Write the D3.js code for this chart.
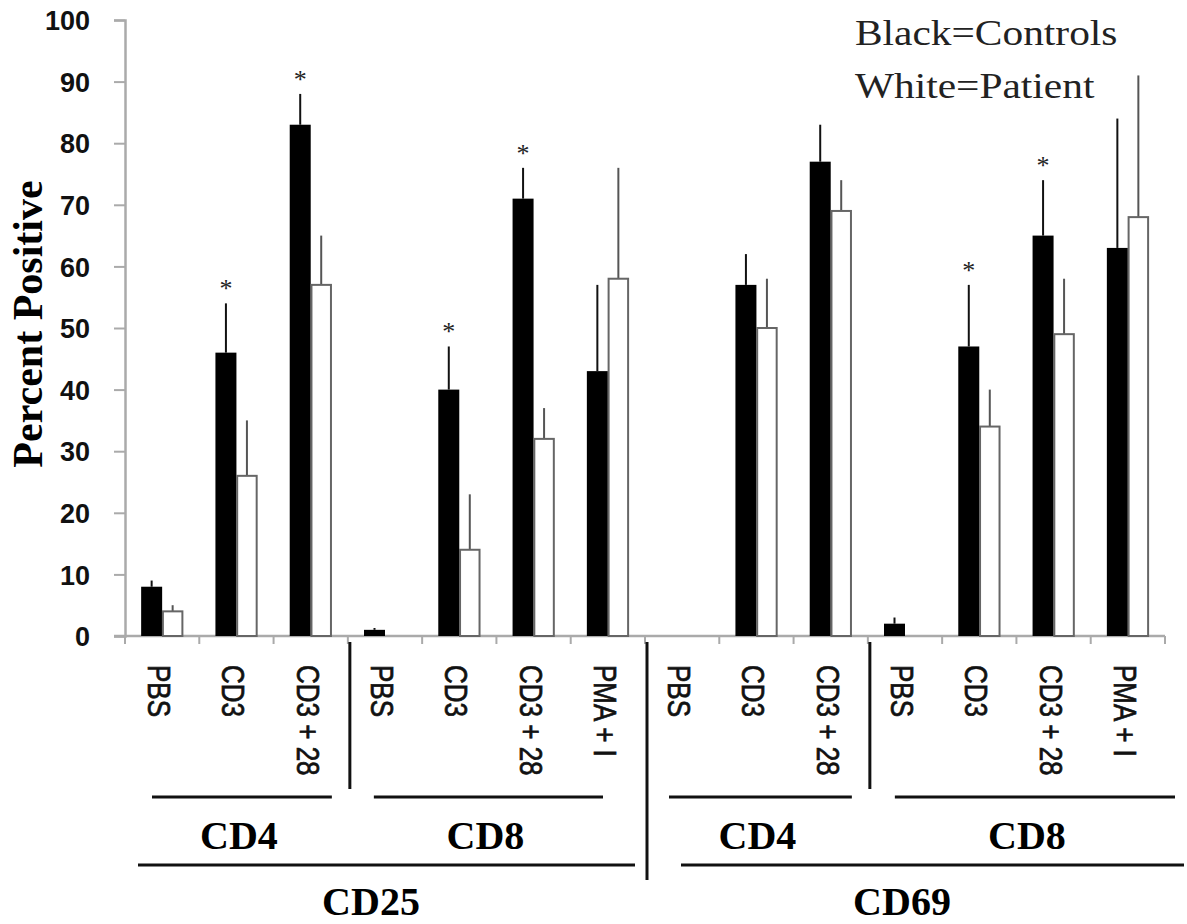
<!DOCTYPE html>
<html>
<head>
<meta charset="utf-8">
<script src="https://cdn.jsdelivr.net/npm/d3@7"></script>
<style>
  body { margin: 0; background: #fff; }
  svg { display: block; }
</style>
</head>
<body>
<script>
// Data
const markers = ["CD25", "CD25", "CD25", "CD25", "CD25", "CD25", "CD25",
                 "CD69", "CD69", "CD69", "CD69", "CD69", "CD69", "CD69"];
const cells = ["CD4", "CD4", "CD4", "CD8", "CD8", "CD8", "CD8",
               "CD4", "CD4", "CD4", "CD8", "CD8", "CD8", "CD8"];
const stimuli = ["PBS", "CD3", "CD3 + 28", "PBS", "CD3", "CD3 + 28", "PMA + I",
                 "PBS", "CD3", "CD3 + 28", "PBS", "CD3", "CD3 + 28", "PMA + I"];
const controls = [8, 46, 83, 1, 40, 71, 43, 0, 57, 77, 2, 47, 65, 63];
const controlsErr = [1, 8, 5, 0.3, 7, 5, 14, 0, 5, 6, 1, 10, 9, 21];
const patient = [4, 26, 57, 0, 14, 32, 58, 0, 50, 69, 0, 34, 49, 68];
const patientErr = [1, 9, 8, 0, 9, 5, 18, 0, 8, 5, 0, 6, 9, 23];
const significant = [false, true, true, false, true, true, false,
                     false, false, false, false, true, true, false];
const yTicks = [0, 10, 20, 30, 40, 50, 60, 70, 80, 90, 100];

const width = 1187, height = 924;
const margin = {top: 20, right: 22, bottom: 288, left: 125};

// bracket insets (px) for the group underlines, as drawn in the original
const cellInset = {"CD25|CD4": [27, -16], "CD25|CD8": [26, -42],
                   "CD69|CD4": [24, -16], "CD69|CD8": [27, 10]};
const markerInset = {"CD25": [13, -10, -14], "CD69": [36, 19, -3]};

const rows = stimuli.map((s, i) => ({
    key: i, marker: markers[i], cell: cells[i], stim: s,
    c: controls[i], ce: controlsErr[i], p: patient[i], pe: patientErr[i], star: significant[i]
}));

const svg = d3.select("body").append("svg")
    .attr("width", width)
    .attr("height", height);

const x = d3.scaleBand()
    .domain(rows.map(d => d.key))
    .range([margin.left, width - margin.right])
    .padding(0);

const barW = 21;
const y = d3.scaleLinear()
    .domain([0, 100])
    .range([height - margin.bottom, margin.top]);

const y0 = y(0);
const mid = d => x(d.key) + x.bandwidth() / 2;
const serif = "Liberation Serif, Times New Roman, serif";
const sans = "Liberation Sans, Arial, sans-serif";

// Y axis
const yAxis = svg.append("g")
    .attr("transform", `translate(${margin.left},0)`)
    .call(d3.axisLeft(y).tickValues(yTicks).tickSize(11).tickPadding(24));
yAxis.select(".domain").attr("stroke", "#aaa").attr("stroke-width", 2.5);
yAxis.selectAll(".tick line").attr("stroke", "#aaa").attr("stroke-width", 2);
yAxis.selectAll(".tick text")
    .attr("font-family", sans)
    .attr("font-weight", "bold")
    .attr("font-size", 27)
    .attr("dy", "0.36em")
    .attr("fill", "#111");

// X axis line and ticks at category boundaries
const bounds = rows.map(d => x(d.key)).concat([x.range()[1]]);
svg.append("line")
    .attr("x1", margin.left - 11).attr("x2", x.range()[1])
    .attr("y1", y0).attr("y2", y0)
    .attr("stroke", "#aaa").attr("stroke-width", 2.5);
svg.append("g").selectAll("line")
    .data(bounds)
    .join("line")
    .attr("x1", d => d).attr("x2", d => d)
    .attr("y1", y0).attr("y2", y0 + 8)
    .attr("stroke", "#aaa").attr("stroke-width", 2);

// Axis title
svg.append("text")
    .attr("transform", `translate(42,${y(50) - 4}) rotate(-90)`)
    .attr("text-anchor", "middle")
    .attr("font-family", serif)
    .attr("font-weight", "bold")
    .attr("font-size", 42)
    .text("Percent Positive");

// Error bars (upper only)
const errs = svg.append("g");
errs.selectAll("line.c")
    .data(rows.filter(d => d.ce > 0))
    .join("line")
    .attr("class", "c")
    .attr("x1", d => mid(d) - barW / 2).attr("x2", d => mid(d) - barW / 2)
    .attr("y1", d => y(d.c)).attr("y2", d => y(d.c + d.ce))
    .attr("stroke", "#111").attr("stroke-width", 2);
errs.selectAll("line.p")
    .data(rows.filter(d => d.pe > 0))
    .join("line")
    .attr("class", "p")
    .attr("x1", d => mid(d) + barW / 2).attr("x2", d => mid(d) + barW / 2)
    .attr("y1", d => y(d.p)).attr("y2", d => y(d.p + d.pe))
    .attr("stroke", "#555").attr("stroke-width", 2);

// Bars
const bars = svg.append("g");
bars.selectAll("rect.c")
    .data(rows.filter(d => d.c > 0))
    .join("rect")
    .attr("class", "c")
    .attr("x", d => mid(d) - barW)
    .attr("y", d => y(d.c))
    .attr("width", barW)
    .attr("height", d => y0 - y(d.c))
    .attr("fill", "#000");
bars.selectAll("rect.p")
    .data(rows.filter(d => d.p > 0))
    .join("rect")
    .attr("class", "p")
    .attr("x", d => mid(d) + 0.75)
    .attr("y", d => y(d.p))
    .attr("width", barW - 1.5)
    .attr("height", d => y0 - y(d.p))
    .attr("fill", "#fff")
    .attr("stroke", "#666")
    .attr("stroke-width", 2);

// Significance stars
svg.append("g").selectAll("text")
    .data(rows.filter(d => d.star))
    .join("text")
    .attr("x", d => mid(d) - barW / 2)
    .attr("y", d => y(d.c + d.ce) - 6)
    .attr("text-anchor", "middle")
    .attr("font-family", serif)
    .attr("font-size", 26)
    .attr("fill", "#222")
    .text("*");

// Category labels, rotated (glyphs are tall and narrow in the original)
svg.append("g").selectAll("text")
    .data(rows)
    .join("text")
    .attr("transform", d => `translate(${mid(d) - 14},${y0 + 29}) rotate(90) scale(1,1.22)`)
    .attr("font-family", sans)
    .attr("font-size", 26)
    .attr("fill", "#111")
    .attr("stroke", "#111")
    .attr("stroke-width", 0.6)
    .text(d => d.stim);

// Group brackets
const cellGroups = d3.groups(rows, d => d.marker + "|" + d.cell).map(([k, v]) => ({
    k, name: v[0].cell, first: v[0].key, last: v[v.length - 1].key
}));
const markerGroups = d3.groups(rows, d => d.marker).map(([k, v]) => ({
    k, first: v[0].key, last: v[v.length - 1].key
}));

const brk = svg.append("g").attr("stroke", "#111").attr("stroke-width", 3);

// cell underlines and names
const cx1 = d => x(d.first) + cellInset[d.k][0];
const cx2 = d => x(d.last) + x.bandwidth() + cellInset[d.k][1];
brk.selectAll("line.cell")
    .data(cellGroups)
    .join("line")
    .attr("class", "cell")
    .attr("x1", cx1).attr("x2", cx2)
    .attr("y1", 797).attr("y2", 797);
svg.append("g").selectAll("text")
    .data(cellGroups)
    .join("text")
    .attr("x", d => d.k === "CD69|CD8" ? (cx1(d) + cx2(d)) / 2 - 8 : (cx1(d) + cx2(d)) / 2 - 3)
    .attr("y", 849)
    .attr("text-anchor", "middle")
    .attr("font-family", serif)
    .attr("font-weight", "bold")
    .attr("font-size", 40)
    .text(d => d.name);

// marker underlines and names
brk.selectAll("line.marker")
    .data(markerGroups)
    .join("line")
    .attr("class", "marker")
    .attr("x1", d => x(d.first) + markerInset[d.k][0])
    .attr("x2", d => x(d.last) + x.bandwidth() + markerInset[d.k][1])
    .attr("y1", 865).attr("y2", 865);
svg.append("g").selectAll("text")
    .data(markerGroups)
    .join("text")
    .attr("x", d => (x(d.first) + x(d.last) + x.bandwidth()) / 2 + markerInset[d.k][2])
    .attr("y", 915)
    .attr("text-anchor", "middle")
    .attr("font-family", serif)
    .attr("font-weight", "bold")
    .attr("font-size", 40)
    .text(d => d.k);

// vertical separators between cell groups and between markers
const cellSeps = cellGroups.slice(1).filter(d => rows[d.first].marker === rows[d.first - 1].marker);
brk.selectAll("line.csep")
    .data(cellSeps)
    .join("line")
    .attr("class", "csep")
    .attr("x1", d => x(d.first) + 2).attr("x2", d => x(d.first) + 2)
    .attr("y1", y0 + 6).attr("y2", 789);
brk.selectAll("line.msep")
    .data(markerGroups.slice(1))
    .join("line")
    .attr("class", "msep")
    .attr("x1", d => x(d.first) + 2).attr("x2", d => x(d.first) + 2)
    .attr("y1", y0 + 6).attr("y2", 880);

// Legend text
const legend = svg.append("g")
    .attr("font-family", serif)
    .attr("font-size", 36)
    .attr("fill", "#222");
legend.append("text").attr("transform", "translate(855,45) scale(1.15,1)").text("Black=Controls");
legend.append("text").attr("transform", "translate(855,98) scale(1.15,1)").text("White=Patient");
</script>
</body>
</html>
